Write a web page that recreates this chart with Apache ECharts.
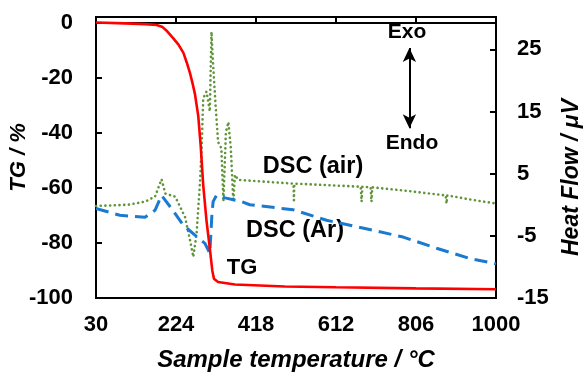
<!DOCTYPE html>
<html><head><meta charset="utf-8">
<script src="https://cdn.jsdelivr.net/npm/echarts@6/dist/echarts.min.js"></script>
<style>html,body{margin:0;padding:0;background:#fff}#c{width:586px;height:372px}</style>
</head><body><div id="c"></div>
<script>
// Sample temperature (°C) tick values
const xTickValues = [30, 224, 418, 612, 806, 1000];
const tgTickValues = [-100, -80, -60, -40, -20, 0];
const hfTickValues = [-15, -5, 5, 15, 25];

// TG curve (%)
const tgTemp  = [30, 100, 150, 177, 190, 200, 217, 230, 242, 250, 258, 264, 270, 278, 284, 290, 298, 306, 312, 316, 326, 367, 488, 612, 806, 1000];
const tgValue = [0, -0.3, -0.6, -0.9, -1.5, -2.8, -5.7, -8, -11, -14.5, -18.4, -22, -26, -34, -45, -59, -72, -82, -90, -93, -94.2, -95.1, -95.8, -96.1, -96.5, -96.8];

// DSC (Ar) heat flow (µV)
const arTemp  = [30, 88, 149, 173, 189, 213, 242, 270, 294, 306, 311, 314, 322, 343, 383, 403, 508, 589, 702, 775, 856, 937, 1000];
const arValue = [-0.6, -1.7, -2.0, -0.9, 1.5, -0.6, -3.3, -4.9, -6.2, -7.8, -1.7, 0.5, 1.5, 1.1, 0.5, 0.0, -0.8, -2.5, -4.1, -5.2, -7.0, -8.65, -9.5];

// DSC (air) heat flow (µV)
const airTemp  = [30, 108, 149, 173, 189, 198, 222, 246, 258, 266, 274, 282, 286, 290, 298, 306, 310, 314, 320, 326, 334, 339, 345, 351, 357, 363, 367, 375, 509, 510, 511, 672, 674, 676, 696, 698, 700, 775, 878, 880, 882, 937, 1000];
const airValue = [-0.2, 0, 0.5, 1.3, 4.1, 1.8, 1.3, -2.0, -5.7, -8.4, -4.6, 3.4, 8.8, 17.1, 18.2, 15, 27.8, 22.5, 16, 10.1, 9.1, 0.5, 11.7, 13.3, 9.1, 0.5, 4.8, 4.0, 3.4, 0.7, 3.4, 2.9, 0.5, 2.9, 2.8, 0.5, 2.8, 2.3, 1.5, 0.2, 1.5, 0.85, 0.2];

const pair = (xs, ys) => xs.map((x, i) => [x, ys[i]]);
const FONT = "'Liberation Sans', Arial, sans-serif";
const plain = v => String(v);

const chart = echarts.init(document.getElementById('c'), null, {renderer: 'canvas'});
chart.setOption({
  animation: false,
  backgroundColor: '#fff',
  grid: {left: 96, right: 90, top: 17, bottom: 74, containLabel: false, outerBoundsMode: 'none',
         show: true, borderColor: '#000', borderWidth: 2, backgroundColor: 'transparent'},
  xAxis: {
    type: 'value', min: xTickValues[0], max: xTickValues[xTickValues.length - 1], interval: xTickValues[1] - xTickValues[0],
    axisLine: {lineStyle: {color: '#000', width: 2}},
    axisTick: {inside: true, length: 6, lineStyle: {color: '#000', width: 2}},
    axisLabel: {color: '#000', fontFamily: FONT, fontWeight: 'bold', fontSize: 22, margin: 16, formatter: plain},
    splitLine: {show: false},
    name: 'Sample temperature / °C', nameLocation: 'middle', nameGap: 50, nameMoveOverlap: false,
    nameTextStyle: {color: '#000', fontFamily: FONT, fontWeight: 'bold', fontStyle: 'italic', fontSize: 24}
  },
  yAxis: [{
    type: 'value', min: tgTickValues[0], max: 2, interval: 20,
    axisLine: {show: true, lineStyle: {color: '#000', width: 2}},
    axisTick: {show: true, inside: true, length: 6, lineStyle: {color: '#000', width: 2}},
    axisLabel: {color: '#000', fontFamily: FONT, fontWeight: 'bold', fontSize: 22, margin: 23, showMaxLabel: false, formatter: plain},
    splitLine: {show: false},
    name: 'TG / %', nameLocation: 'middle', nameGap: 66, nameRotate: 90, nameMoveOverlap: false,
    nameTextStyle: {color: '#000', fontFamily: FONT, fontWeight: 'bold', fontStyle: 'italic', fontSize: 22}
  }, {
    type: 'value', position: 'right', min: hfTickValues[0], max: 30.2, interval: 10,
    axisLine: {show: true, lineStyle: {color: '#000', width: 2}},
    axisTick: {show: true, inside: true, length: 6, lineStyle: {color: '#000', width: 2}},
    axisLabel: {color: '#000', fontFamily: FONT, fontWeight: 'bold', fontSize: 22, margin: 21, showMaxLabel: false, formatter: plain},
    splitLine: {show: false},
    name: 'Heat Flow / μV', nameLocation: 'middle', nameGap: 64, nameRotate: 90, nameMoveOverlap: false,
    nameTextStyle: {color: '#000', fontFamily: FONT, fontWeight: 'bold', fontStyle: 'italic', fontSize: 23, padding: [0, 40, 0, 0]}
  }],
  series: [{
    name: 'DSC (air)', type: 'line', yAxisIndex: 1, data: pair(airTemp, airValue),
    showSymbol: false, symbol: 'none',
    lineStyle: {color: '#5f9438', width: 2.6, type: [0.1, 4.6], cap: 'round'},
    markLine: {
      silent: true, symbol: ['arrow', 'arrow'], symbolSize: [10, 14],
      lineStyle: {color: '#000', type: 'solid', width: 2},
      label: {show: false},
      data: [[{coord: [790, 25.2]}, {coord: [790, 12.3]}]]
    }
  }, {
    name: 'DSC (Ar)', type: 'line', yAxisIndex: 1, data: pair(arTemp, arValue),
    showSymbol: false, symbol: 'none',
    lineStyle: {color: '#1a7ad0', width: 3, type: [13, 7]}
  }, {
    name: 'TG', type: 'line', yAxisIndex: 0, data: pair(tgTemp, tgValue),
    showSymbol: false, symbol: 'none',
    lineStyle: {color: '#ff0000', width: 2.6}
  }],
  graphic: [
    {type: 'text', x: 407, y: 32, style: {text: 'Exo', font: 'bold 21px ' + FONT, fill: '#000', textAlign: 'center', textVerticalAlign: 'middle'}},
    {type: 'text', x: 412, y: 143, style: {text: 'Endo', font: 'bold 21px ' + FONT, fill: '#000', textAlign: 'center', textVerticalAlign: 'middle'}},
    {type: 'text', x: 313, y: 167, style: {text: 'DSC (air)', font: 'bold 23.5px ' + FONT, fill: '#000', textAlign: 'center', textVerticalAlign: 'middle'}},
    {type: 'text', x: 295, y: 231, style: {text: 'DSC (Ar)', font: 'bold 23.5px ' + FONT, fill: '#000', textAlign: 'center', textVerticalAlign: 'middle'}},
    {type: 'text', x: 242, y: 268, style: {text: 'TG', font: 'bold 22px ' + FONT, fill: '#000', textAlign: 'center', textVerticalAlign: 'middle'}}
  ]
});
</script>
</body></html>
